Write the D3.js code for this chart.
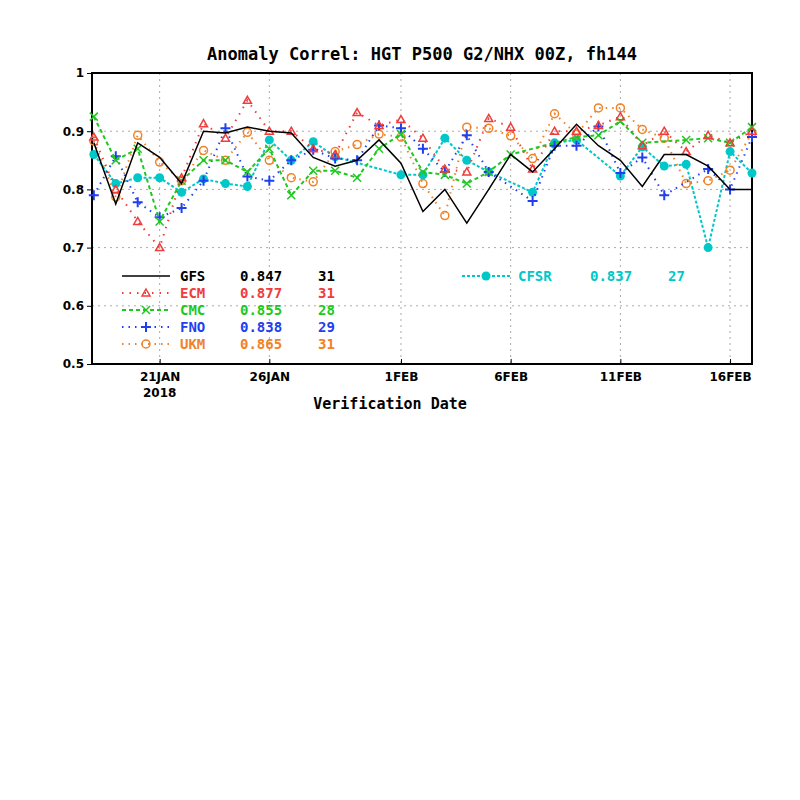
<!DOCTYPE html>
<html><head><meta charset="utf-8">
<script src="https://cdn.jsdelivr.net/npm/d3@7"></script>
<style>body{margin:0;background:#fff}text{font-family:"DejaVu Sans Mono",monospace;font-weight:bold}</style>
</head><body><svg id="c" width="800" height="800"></svg>
<script>
var days = d3.range(31).map(function(i){ return new Date(2018, 0, 18 + i); });
var gfs  = [0.88,0.775,0.88,0.855,0.81,0.90,0.897,0.907,0.90,0.897,0.855,0.84,0.85,0.885,0.845,0.762,0.80,0.742,0.80,0.86,0.83,0.87,0.912,0.875,0.85,0.805,0.86,0.86,0.84,0.80,0.80];
var ecm  = [0.89,0.80,0.745,0.70,0.82,0.913,0.888,0.953,0.90,0.90,0.87,0.86,0.932,0.91,0.92,0.888,0.835,0.83,0.922,0.907,0.835,0.90,0.90,0.91,0.925,0.875,0.90,0.865,0.893,0.88,0.90];
var cmc  = [0.925,0.85,0.87,0.745,0.815,0.85,0.85,0.83,0.87,0.79,0.832,0.832,0.82,0.87,0.895,0.83,0.825,0.81,0.83,0.86,null,null,0.89,0.893,0.917,0.88,null,0.885,0.888,0.88,0.907];
var fno  = [0.79,0.857,0.778,0.752,0.768,0.815,0.905,0.822,0.815,0.85,0.868,0.853,0.85,0.91,0.905,0.87,0.83,0.893,0.83,null,0.78,0.875,0.875,0.908,0.828,0.855,0.79,null,0.835,0.80,0.89];
var ukm  = [0.883,0.787,0.893,0.847,0.815,0.867,0.85,0.898,0.85,0.82,0.813,0.865,0.877,0.895,0.89,0.81,0.755,0.907,0.905,0.892,0.853,0.93,0.895,0.94,0.94,0.903,0.888,0.81,0.815,0.833,0.897];
var cfsr = [0.86,0.81,0.82,0.82,0.795,0.818,0.81,0.805,0.885,0.85,0.882,0.856,null,null,0.825,0.825,0.888,0.85,0.83,null,0.795,0.88,0.885,null,0.823,0.873,0.84,0.843,0.70,0.865,0.828];
var yTicks = [0.5,0.6,0.7,0.8,0.9,1];
var xTickDays = [21,26,32,37,42,47];
var xTickLabels = ["21JAN","26JAN","1FEB","6FEB","11FEB","16FEB"];

var series = [
  {name:"GFS", vals:gfs, score:"0.847", n:"31", color:"#000000", dash:null, sym:"none"},
  {name:"ECM", vals:ecm, score:"0.877", n:"31", color:"#f03c3c", dash:"1.5,6", sym:"tri"},
  {name:"CMC", vals:cmc, score:"0.855", n:"28", color:"#1ec81e", dash:"4,3", sym:"x"},
  {name:"FNO", vals:fno, score:"0.838", n:"29", color:"#2040f0", dash:"1.5,5", sym:"plus"},
  {name:"UKM", vals:ukm, score:"0.865", n:"31", color:"#f08228", dash:"1.5,5", sym:"circ"},
  {name:"CFSR", vals:cfsr, score:"0.837", n:"27", color:"#00c8c8", dash:"3,2", sym:"dot"}
];

var svg = d3.select("#c");
var x = d3.scaleTime().domain([new Date(2018,0,17,22), new Date(2018,1,17)]).range([92,752]);
var y = d3.scaleLinear().domain([0.5,1]).range([364,73]);

svg.append("text").attr("x",422).attr("y",60).attr("text-anchor","middle")
  .style("font-size","17px").text("Anomaly Correl: HGT P500 G2/NHX 00Z, fh144");

var grid = svg.append("g").attr("stroke","#aaa").attr("stroke-dasharray","2,4");
yTicks.slice(1,-1).forEach(function(v){ grid.append("line").attr("x1",92).attr("x2",752).attr("y1",y(v)).attr("y2",y(v)); });
xTickDays.forEach(function(d){ var xx = x(new Date(2018,0,d)); grid.append("line").attr("x1",xx).attr("x2",xx).attr("y1",73).attr("y2",364); });

svg.append("rect").attr("x",92).attr("y",73).attr("width",660).attr("height",291)
  .attr("fill","none").attr("stroke","#000").attr("stroke-width",2);

var ya = svg.append("g").attr("transform","translate(92,0)")
  .call(d3.axisLeft(y).tickValues(yTicks).tickSize(5).tickFormat(d3.format("")));
ya.select(".domain").remove();
ya.selectAll("text").style("font-size","12px").style("font-family","DejaVu Sans").attr("fill","#000");
var xa = svg.append("g").attr("transform","translate(0,364)")
  .call(d3.axisBottom(x).tickValues(xTickDays.map(function(d){return new Date(2018,0,d);})).tickSize(-5)
  .tickFormat(function(d,i){ return xTickLabels[i]; }));
xa.select(".domain").remove();
xa.selectAll("text").style("font-size","12px").style("font-family","DejaVu Sans").attr("dy","1.2em").attr("fill","#000");
svg.append("text").attr("x",x(new Date(2018,0,21))).attr("y",397).attr("text-anchor","middle")
  .style("font-size","12px").style("font-family","DejaVu Sans").text("2018");
svg.append("text").attr("x",390).attr("y",409).attr("text-anchor","middle")
  .style("font-size","15px").text("Verification Date");

function marker(g, s, cx, cy){
  if (s.sym==="tri") g.append("path").attr("d","M"+cx+","+(cy-4)+"L"+(cx+4)+","+(cy+3)+"L"+(cx-4)+","+(cy+3)+"Z").attr("fill","none").attr("stroke",s.color).attr("stroke-width",1.5);
  else if (s.sym==="x") g.append("path").attr("d","M"+(cx-4)+","+(cy-4)+"L"+(cx+4)+","+(cy+4)+"M"+(cx+4)+","+(cy-4)+"L"+(cx-4)+","+(cy+4)).attr("stroke",s.color).attr("stroke-width",1.5);
  else if (s.sym==="plus") g.append("path").attr("d","M"+(cx-5)+","+cy+"L"+(cx+5)+","+cy+"M"+cx+","+(cy-5)+"L"+cx+","+(cy+5)).attr("stroke",s.color).attr("stroke-width",2);
  else if (s.sym==="circ") g.append("circle").attr("cx",cx).attr("cy",cy).attr("r",4).attr("fill","none").attr("stroke",s.color).attr("stroke-width",1.5);
  else if (s.sym==="dot") g.append("circle").attr("cx",cx).attr("cy",cy).attr("r",4.5).attr("fill",s.color);
}

var line = d3.line().x(function(d){ return x(d[0]); }).y(function(d){ return y(d[1]); });
series.slice().reverse().forEach(function(s){
  var pts = days.map(function(d,i){ return [d, s.vals[i]]; }).filter(function(p){ return p[1]!==null; });
  var g = svg.append("g");
  g.append("path").attr("d", line(pts)).attr("fill","none").attr("stroke",s.color)
    .attr("stroke-width", s.name==="GFS"?1.5:2).attr("stroke-dasharray", s.dash);
  pts.forEach(function(p){ marker(g, s, x(p[0]), y(p[1])); });
});

// legend
series.forEach(function(s,i){
  var lx = i<5 ? 122 : 462, ly = i<5 ? 276 + i*17 : 276, cols = i<5 ? [180,240,318] : [518,590,668];
  var g = svg.append("g");
  g.append("line").attr("x1",lx).attr("x2",lx+48).attr("y1",ly).attr("y2",ly)
    .attr("stroke",s.color).attr("stroke-width",s.name==="GFS"?1.5:2).attr("stroke-dasharray",s.dash);
  marker(g, s, lx+24, ly);
  [s.name, s.score, s.n].forEach(function(t,j){
    g.append("text").attr("x",cols[j]).attr("y",ly+5).attr("fill",s.color).style("font-size","14px").text(t);
  });
});
</script></body></html>
